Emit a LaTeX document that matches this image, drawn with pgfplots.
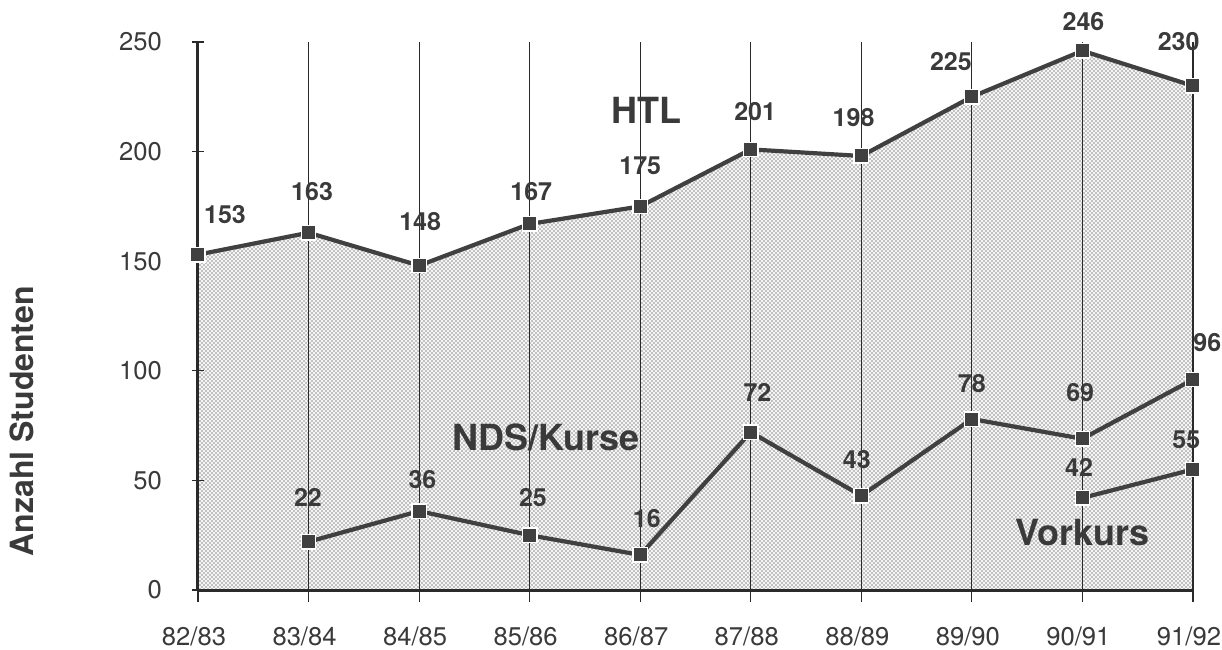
\documentclass[border=0pt]{standalone}
\usepackage{fontspec}
\setmainfont{TeX Gyre Heros}
\usepackage{pgfplots}
\pgfplotsset{compat=1.18}
\usepackage{pgfplotstable}
\usetikzlibrary{patterns}
\definecolor{ink}{HTML}{404040}
\definecolor{txt}{HTML}{3A3A3A}
\definecolor{gridc}{HTML}{2A2A2A}
\pgfdeclarepatternformonly{finedots}{\pgfqpoint{-0.6pt}{-0.6pt}}{\pgfqpoint{1.4pt}{1.4pt}}{\pgfqpoint{2.0pt}{2.0pt}}{%
  \pgfpathcircle{\pgfpointorigin}{0.4pt}\pgfusepath{fill}%
  \pgfpathcircle{\pgfqpoint{1.0pt}{1.0pt}}{0.4pt}\pgfusepath{fill}}

\pgfplotstableread{
x y
0 153
1 163
2 148
3 167
4 175
5 201
6 198
7 225
8 246
9 230
}\htl
\pgfplotstableread{
x y
1 22
2 36
3 25
4 16
5 72
6 43
7 78
8 69
9 96
}\nds
\pgfplotstableread{
x y
8 42
9 55
}\vk

\begin{document}
\begin{tikzpicture}
\begin{axis}[
  set layers,
  at={(0,0)}, anchor=south west,
  scale only axis,
  width=497.5pt, height=274pt,
  xmin=0, xmax=9, ymin=0, ymax=250,
  clip=false,
  axis x line=bottom, axis y line=left,
  axis line style={-, line width=1.5pt, color=gridc},
  xtick={0,...,9},
  xticklabels={82/83,83/84,84/85,85/86,86/87,87/88,88/89,89/90,90/91,91/92},
  ytick={0,50,100,150,200,250},
  tick align=outside,
  major tick length=6pt,
  xtick style={line width=0.6pt, color=gridc},
  ytick style={line width=0.6pt, color=gridc, xshift=3pt},
  xmajorgrids,
  grid style={line width=0.6pt, color=gridc},
  /pgf/number format/assume math mode=true,
  tick label style={font=\fontsize{12.8}{15}\selectfont, color=txt},
  xticklabel style={yshift=-9pt, xshift=-2pt},
  yticklabel style={xshift=-8.5pt},
]
\addplot[on layer=axis background, draw=none, fill=black!4,
  postaction={pattern=finedots, pattern color=black!45}]
  table[x=x,y=y] {\htl} \closedcycle;

\addplot[ink, line width=2.1pt, mark=square*, mark size=3.6pt,
  mark options={fill=ink, draw=white, line width=0.7pt}]
  table[x=x,y=y] {\htl};
\addplot[ink, line width=2.1pt, mark=square*, mark size=3.6pt,
  mark options={fill=ink, draw=white, line width=0.7pt}]
  table[x=x,y=y] {\nds};
\addplot[ink, line width=2.1pt, mark=square*, mark size=3.6pt,
  mark options={fill=ink, draw=white, line width=0.7pt}]
  table[x=x,y=y] {\vk};

\tikzset{lbl/.style={font=\fontsize{12.5}{14}\selectfont\bfseries, text=txt, inner sep=1pt},
         ser/.style={font=\fontsize{18}{20}\selectfont\bfseries, text=txt, inner sep=0pt}}
% HTL labels
\node[lbl] at (axis cs:0.244,171.1) {153};
\node[lbl] at (axis cs:1.032,181.6) {163};
\node[lbl] at (axis cs:2.009,167.9) {148};
\node[lbl] at (axis cs:3.014,181.6) {167};
\node[lbl] at (axis cs:4.0,193.4) {175};
\node[lbl] at (axis cs:5.04,218.1) {201};
\node[lbl] at (axis cs:5.93,215.3) {198};
\node[lbl] at (axis cs:6.81,240.9) {225};
\node[lbl] at (axis cs:8.01,259.1) {246};
\node[lbl] at (axis cs:8.87,250.0) {230};
% NDS labels
\node[lbl] at (axis cs:0.995,42.0) {22};
\node[lbl] at (axis cs:2.03,50.2) {36};
\node[lbl] at (axis cs:3.03,42.0) {25};
\node[lbl] at (axis cs:4.06,32.8) {16};
\node[lbl] at (axis cs:5.06,89.9) {72};
\node[lbl] at (axis cs:5.96,59.3) {43};
\node[lbl] at (axis cs:7.0,94.4) {78};
\node[lbl] at (axis cs:7.98,89.9) {69};
\node[lbl] at (axis cs:9.13,113.1) {96};
% Vorkurs labels
\node[lbl] at (axis cs:7.97,56.1) {42};
\node[lbl] at (axis cs:8.94,68.4) {55};
% series names
\node[ser] at (axis cs:4.06,219) {HTL};
\node[ser] at (axis cs:3.15,69.8) {NDS/Kurse};
\node[ser] at (axis cs:8.0,26.0) {Vorkurs};
% y label
\node[xshift=-88pt, rotate=90, font=\fontsize{16}{18}\selectfont\bfseries, text=txt, inner sep=0pt]
  at (rel axis cs:0,0.308) {Anzahl Studenten};
\end{axis}
\pgfresetboundingbox
\path (-99pt,-29.5pt) rectangle (512pt,295pt);
\end{tikzpicture}
\end{document}
